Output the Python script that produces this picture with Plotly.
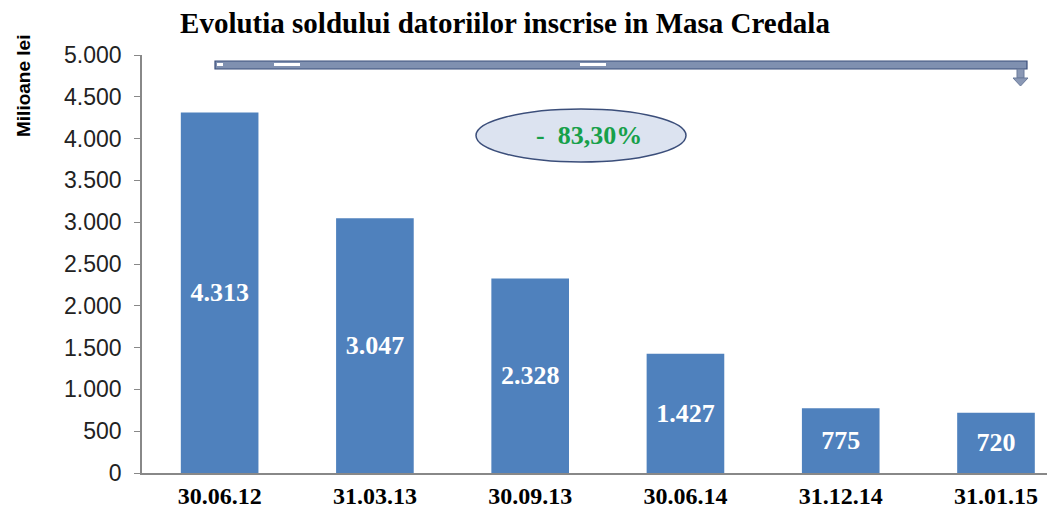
import plotly.graph_objects as go

categories = ["30.06.12", "31.03.13", "30.09.13", "30.06.14", "31.12.14", "31.01.15"]
values = [4313, 3047, 2328, 1427, 775, 720]
value_labels = ["4.313", "3.047", "2.328", "1.427", "775", "720"]
tick_vals = [0, 500, 1000, 1500, 2000, 2500, 3000, 3500, 4000, 4500, 5000]
tick_text = ["0", "500", "1.000", "1.500", "2.000", "2.500", "3.000", "3.500", "4.000", "4.500", "5.000"]
change_label = "-  83,30%"
title_text = "Evolutia soldului datoriilor inscrise in Masa Credala"
y_title = "Milioane lei"

fig = go.Figure(go.Bar(
    x=list(range(len(categories))), y=values,
    text=value_labels, textposition="inside", insidetextanchor="middle",
    textfont=dict(family="Liberation Serif", size=26, color="white"),
    texttemplate="<b>%{text}</b>",
    marker=dict(color="#4f81bd", line=dict(width=0)),
    width=0.5,
))

OFF = 8  # page body margin
W, H = 1055 - OFF, 514 - OFF
L, R, T, B = 142 - OFF, 0, 55 - OFF, 41
PW, PH = W - L - R, H - T - B

fig.update_layout(
    width=W, height=H,
    margin=dict(l=L, r=R, t=T, b=B, autoexpand=False),
    paper_bgcolor="white", plot_bgcolor="white",
    showlegend=False,
    title=dict(text="<b>" + title_text + "</b>", x=(505 - OFF) / W, xanchor="center",
               y=1 - (23 - OFF) / H, yanchor="middle",
               font=dict(family="Liberation Serif", size=29, color="black")),
    xaxis=dict(range=[-0.5, 5.38], tickvals=list(range(len(categories))),
               ticktext=["<b>" + c + "</b>" for c in categories],
               tickfont=dict(family="Liberation Serif", size=24, color="black"),
               showline=True, linecolor="#888", linewidth=1.5, ticks="",
               showgrid=False, zeroline=False, automargin=False),
    yaxis=dict(range=[0, 5000], tickvals=tick_vals, ticktext=tick_text,
               tickfont=dict(family="Liberation Sans", size=23, color="#222"),
               ticklabelstandoff=8,
               showline=True, linecolor="#888", linewidth=1.5,
               ticks="outside", ticklen=6, tickcolor="#888",
               showgrid=False, zeroline=False, automargin=False),
)

# convert reference-page pixels to paper fractions
def px(x):
    return (x - OFF - L) / PW
def py(y):
    return (H - B - (y - OFF)) / PH

shapes = []
shapes.append(dict(type="rect", xref="paper", yref="paper",
                   x0=px(215), x1=px(1027), y0=py(69), y1=py(61),
                   fillcolor="#7f90b0", line=dict(color="#3b4e7a", width=1.2)))
for a, b in [(217, 223), (274, 300), (580, 606)]:
    shapes.append(dict(type="rect", xref="paper", yref="paper",
                       x0=px(a), x1=px(b), y0=py(66), y1=py(63),
                       fillcolor="white", line=dict(width=0)))
shapes.append(dict(type="rect", xref="paper", yref="paper",
                   x0=px(1017), x1=px(1024), y0=py(78), y1=py(69),
                   fillcolor="#8a98b5", line=dict(color="#6a7a9a", width=1)))
shapes.append(dict(type="path", xref="paper", yref="paper",
                   path=f"M {px(1013)} {py(78)} L {px(1028)} {py(78)} L {px(1020.5)} {py(86)} Z",
                   fillcolor="#8a98b5", line=dict(color="#6a7a9a", width=1)))
shapes.append(dict(type="circle", xref="paper", yref="paper",
                   x0=px(476), x1=px(686), y0=py(162), y1=py(109),
                   fillcolor="#dce3f0", line=dict(color="#3b4e7a", width=1.5)))
fig.update_layout(shapes=shapes)

fig.add_annotation(xref="paper", yref="paper", x=px(589), y=py(136),
                   xanchor="center", yanchor="middle",
                   text="<b>" + change_label + "</b>", showarrow=False,
                   font=dict(family="Liberation Serif", size=26, color="#17a04a"))
fig.add_annotation(xref="paper", yref="paper", x=px(23), y=py(86),
                   xanchor="center", yanchor="middle",
                   text="<b>" + y_title + "</b>", showarrow=False, textangle=-90,
                   font=dict(family="Liberation Sans", size=19, color="black"))

fig.write_html("out.html")
